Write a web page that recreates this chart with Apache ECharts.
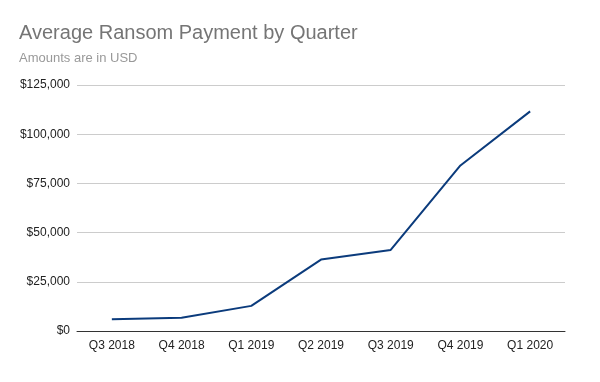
<!DOCTYPE html>
<html><head><meta charset="utf-8">
<script src="https://cdn.jsdelivr.net/npm/echarts@6/dist/echarts.min.js"></script>
<style>html,body{margin:0;padding:0;background:#fff}#c{width:600px;height:382px}</style>
</head><body><div id="c"></div>
<script>
const categories = ["Q3 2018","Q4 2018","Q1 2019","Q2 2019","Q3 2019","Q4 2019","Q1 2020"];
const payments = [5973, 6733, 12762, 36295, 41198, 84116, 111605];
const chart = echarts.init(document.getElementById('c'));
chart.setOption({
  animation: false,
  backgroundColor: '#fff',
  title: {
    text: 'Average Ransom Payment by Quarter',
    subtext: 'Amounts are in USD',
    left: 14, top: 18,
    itemGap: 9,
    textStyle: {fontFamily: 'Arial, Liberation Sans', fontSize: 20, fontWeight: 'normal', color: '#757575'},
    subtextStyle: {fontFamily: 'Arial, Liberation Sans', fontSize: 13, color: '#999999'}
  },
  grid: {left: 77, right: 35, top: 85, bottom: 51},
  xAxis: {
    type: 'category', data: categories, boundaryGap: true,
    axisLine: {lineStyle: {color: '#333', width: 1}},
    axisTick: {show: false},
    axisLabel: {fontFamily: 'Arial, Liberation Sans', fontSize: 12, color: '#222', margin: 9}
  },
  yAxis: {
    type: 'value', min: 0, max: 125000, interval: 25000,
    axisLine: {show: false}, axisTick: {show: false},
    splitLine: {lineStyle: {color: '#cccccc'}},
    axisLabel: {fontFamily: 'Arial, Liberation Sans', fontSize: 12, color: '#222', margin: 7,
      formatter: v => '$' + v.toLocaleString('en-US')}
  },
  series: [{
    type: 'line', data: payments, symbol: 'none',
    lineStyle: {color: '#0b3b7c', width: 2}
  }]
});
</script></body></html>
